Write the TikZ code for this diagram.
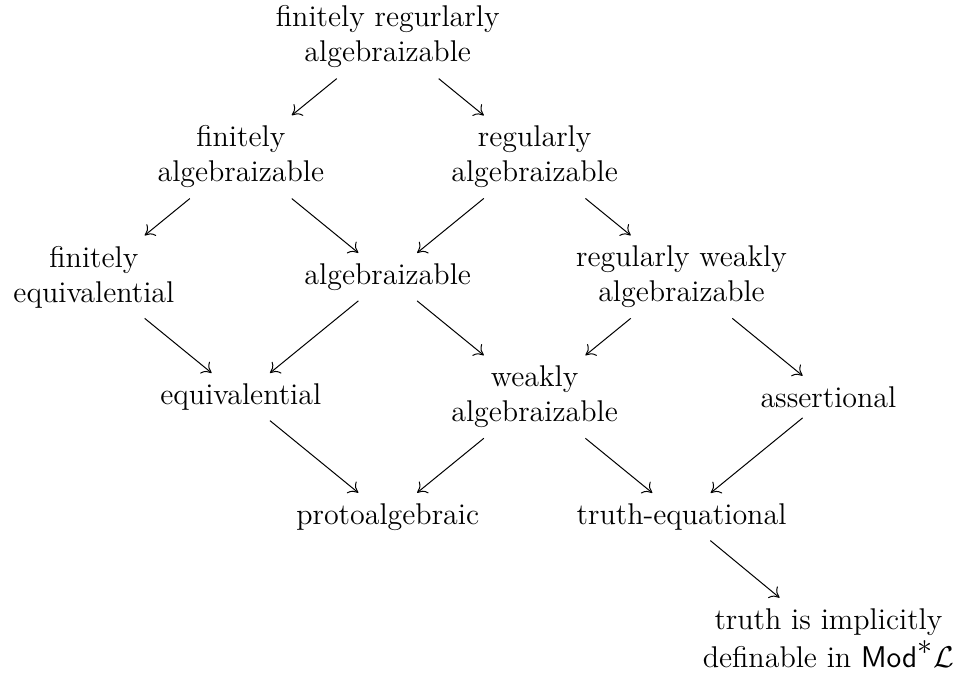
\documentclass[tikz,border=0pt,12pt]{standalone}
\usepackage{amsmath}
\usepackage{xcolor}
\usepackage{tikz}
\usetikzlibrary{arrows.meta}

\begin{document}
\begin{tikzpicture}[scale=1.0, >={To[length=3.6pt,width=6pt]},
    cls/.style={align=center, font=\fontsize{12}{14}\selectfont}]
    % Frame
    \useasboundingbox (0,0) rectangle (13.41,9.49);

    % Row 0
    \node[cls] (frAlg) at (5.45,8.97) {finitely regurlarly\\algebraizable};

    % Row 1
    \node[cls] (fAlg) at (3.385,7.284) {finitely\\algebraizable};
    \node[cls] (rAlg) at (7.515,7.284) {regularly\\algebraizable};

    % Row 2
    \node[cls] (fEq) at (1.32,5.598) {finitely\\equivalential};
    \node[cls] (alg) at (5.45,5.598) {algebraizable};
    \node[cls] (rwAlg) at (9.58,5.598) {regularly weakly\\algebraizable};

    % Row 3
    \node[cls] (eq) at (3.385,3.912) {equivalential};
    \node[cls] (wAlg) at (7.515,3.912) {weakly\\algebraizable};
    \node[cls] (assert) at (11.645,3.912) {assertional};

    % Row 4
    \node[cls] (proto) at (5.45,2.226) {protoalgebraic};
    \node[cls] (truthEq) at (9.58,2.226) {truth-equational};

    % Row 5
    \node[cls, font=\fontsize{12}{15.5}\selectfont] (truthDef) at (11.645,0.52)
        {truth is implicitly\\definable in $\mathsf{Mod}^{\textstyle *}\mathcal{L}$};

    % Implications
    \foreach \a/\b in {frAlg/fAlg, frAlg/rAlg, fAlg/fEq, fAlg/alg, rAlg/alg, rAlg/rwAlg,
                       fEq/eq, alg/eq, alg/wAlg, rwAlg/wAlg, rwAlg/assert,
                       eq/proto, wAlg/proto, wAlg/truthEq, assert/truthEq, truthEq/truthDef}
        \draw[->] (\a) -- (\b);

\end{tikzpicture}
\end{document}
